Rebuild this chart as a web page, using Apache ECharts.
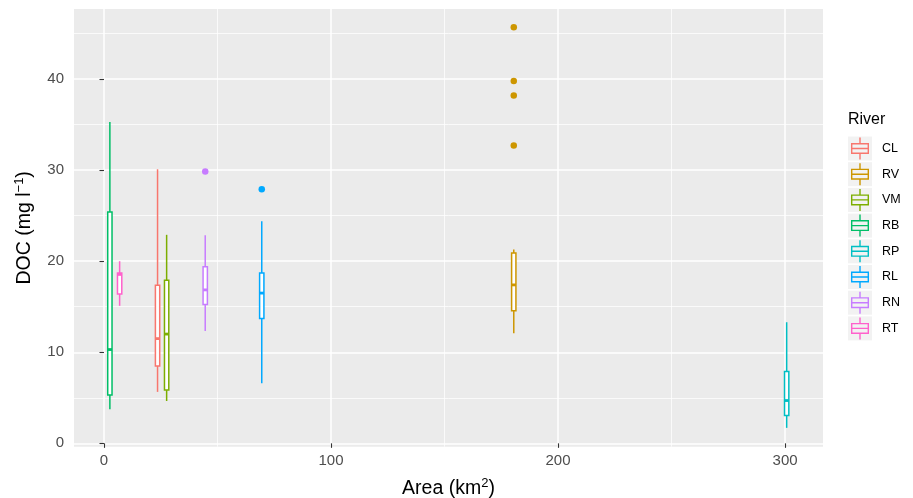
<!DOCTYPE html>
<html>
<head>
<meta charset="utf-8">
<title>DOC by catchment area</title>
<script src="https://cdn.jsdelivr.net/npm/echarts@6/dist/echarts.min.js"></script>
<style>
  html, body { margin: 0; padding: 0; background: #fff; }
  #chart { width: 913px; height: 498px; }
</style>
</head>
<body>
<div id="chart"></div>
<script>
// 数据：每条河的箱线图五数 + 离群点
var rivers = ['CL', 'RV', 'VM', 'RB', 'RP', 'RL', 'RN', 'RT'];
var colors = ['#F8766D', '#CD9600', '#7CAE00', '#00BE67', '#00BFC4', '#00A9FF', '#C77CFF', '#FF61CC'];
var areas = [23.6, 180.5, 27.6, 2.6, 300.7, 69.5, 44.6, 6.9];
var whiskerLow = [5.65, 12.1, 4.65, 3.75, 1.7, 6.6, 12.35, 15.1];
var q1 = [8.5, 14.55, 5.85, 5.3, 3.05, 13.7, 15.25, 16.4];
var median = [11.5, 17.4, 12.0, 10.3, 4.7, 16.5, 16.85, 18.55];
var q3 = [17.35, 20.9, 17.9, 25.4, 7.9, 18.7, 19.4, 18.7];
var whiskerHigh = [30.1, 21.3, 22.9, 35.3, 13.3, 24.4, 22.85, 20.0];
var outliers = [[], [45.7, 39.8, 38.2, 32.7], [], [], [], [27.9], [29.85], []];
var xTicks = [0, 100, 200, 300];
var yTicks = [0, 10, 20, 30, 40];

var boxWidth = 1.9; // 数据单位
var font = '"Liberation Sans", Arial, sans-serif';

// 图例图标：箱子轮廓（互不重叠的矩形拼成）
var keyIcon = 'path://M8.3 0h1.4v5.5h-1.4Z M0 5.5h18v1.4h-18Z M0 15.1h18v1.4h-18Z ' +
    'M0 6.9h1.4v8.2h-1.4Z M16.6 6.9h1.4v8.2h-1.4Z M1.4 10.3h15.2v1.4h-15.2Z M8.3 16.5h1.4v5.5h-1.4Z';

function makeBoxRender(color) {
    return function(params, api) {
        var x = api.value(0);
        var lo = api.coord([x, api.value(1)]);
        var b1 = api.coord([x, api.value(2)]);
        var md = api.coord([x, api.value(3)]);
        var b3 = api.coord([x, api.value(4)]);
        var hi = api.coord([x, api.value(5)]);
        var half = api.size([boxWidth, 0])[0] / 2;
        var line = { stroke: color, lineWidth: 1.5 };
        return {
            type: 'group',
            children: [
                { type: 'line', shape: { x1: hi[0], y1: hi[1], x2: b3[0], y2: b3[1] }, style: line },
                { type: 'line', shape: { x1: b1[0], y1: b1[1], x2: lo[0], y2: lo[1] }, style: line },
                {
                    type: 'rect',
                    shape: { x: b3[0] - half, y: b3[1], width: half * 2, height: b1[1] - b3[1] },
                    style: { fill: '#fff', stroke: color, lineWidth: 1.5 }
                },
                {
                    type: 'line',
                    shape: { x1: md[0] - half, y1: md[1], x2: md[0] + half, y2: md[1] },
                    style: { stroke: color, lineWidth: 2.8 }
                }
            ]
        };
    };
}

var series = [];
var legendData = [];
var keyBg = [];
for (var i = 0; i < rivers.length; i++) {
    series.push({
        name: rivers[i],
        type: 'custom',
        itemStyle: { color: colors[i] },
        renderItem: makeBoxRender(colors[i]),
        encode: { x: 0, y: [1, 2, 3, 4, 5] },
        data: [[areas[i], whiskerLow[i], q1[i], median[i], q3[i], whiskerHigh[i]]],
        z: 3
    });
    var pts = [];
    for (var j = 0; j < outliers[i].length; j++) {
        pts.push([areas[i], outliers[i][j]]);
    }
    series.push({
        name: rivers[i],
        type: 'scatter',
        symbolSize: 6.5,
        itemStyle: { color: colors[i], opacity: 1 },
        data: pts,
        z: 4
    });
    legendData.push({ name: rivers[i], icon: keyIcon });
    keyBg.push({
        type: 'rect',
        left: 848,
        top: 136.5 + i * 25.7,
        shape: { width: 24, height: 24 },
        style: { fill: '#F2F2F2' },
        z: -1
    });
}

var myChart = echarts.init(document.getElementById('chart'));
var option = {
    animation: false,
    backgroundColor: '#fff',
    textStyle: { fontFamily: font },
    grid: {
        left: 74, right: 90, top: 9, bottom: 51.3,
        outerBoundsMode: 'none',
        containLabel: false,
        show: true, backgroundColor: '#EBEBEB', borderWidth: 0
    },
    title: {
        text: 'River',
        left: 848, top: 112,
        padding: 0,
        textStyle: { fontFamily: font, fontSize: 16, fontWeight: 'normal', color: '#000' }
    },
    legend: {
        orient: 'vertical',
        left: 851, top: 137.5,
        padding: 0,
        itemWidth: 18, itemHeight: 22,
        itemGap: 3.7,
        selectedMode: false,
        data: legendData,
        textStyle: { fontFamily: font, fontSize: 12.5, color: '#000', padding: [0, 0, 0, 8] }
    },
    graphic: keyBg,
    xAxis: {
        type: 'value',
        min: -13.2, max: 316.7,
        splitNumber: 3,
        name: 'Area (km{sup|2})',
        nameLocation: 'middle',
        nameGap: 30,
        nameTextStyle: {
            fontFamily: font, fontSize: 19.5, color: '#000', verticalAlign: 'top',
            rich: { sup: { fontFamily: font, fontSize: 13, color: '#000', padding: [0, 0, 11, 0] } }
        },
        axisLine: { show: false },
        axisTick: { show: true, length: 4.5, customValues: xTicks, lineStyle: { color: '#333', width: 1.1 } },
        axisLabel: { customValues: xTicks, margin: 7, fontSize: 15, color: '#4D4D4D', fontFamily: font },
        splitLine: { show: true, lineStyle: { color: '#fff', width: 1.5 } },
        minorTick: { show: false, splitNumber: 2 },
        minorSplitLine: { show: true, lineStyle: { color: '#fff', width: 0.75 } }
    },
    yAxis: {
        type: 'value',
        min: -0.37, max: 47.7,
        splitNumber: 5,
        name: 'DOC (mg l{sup|\u22121})',
        nameLocation: 'middle',
        nameRotate: 90,
        nameGap: 37,
        nameTextStyle: {
            fontFamily: font, fontSize: 19.5, color: '#000',
            rich: { sup: { fontFamily: font, fontSize: 13, color: '#000', padding: [0, 0, 11, 0] } }
        },
        axisLine: { show: false },
        axisTick: { show: true, length: 4.5, customValues: yTicks, lineStyle: { color: '#333', width: 1.1 } },
        axisLabel: { customValues: yTicks, margin: 10, fontSize: 15, color: '#4D4D4D', fontFamily: font },
        splitLine: { show: true, lineStyle: { color: '#fff', width: 1.5 } },
        minorTick: { show: false, splitNumber: 2 },
        minorSplitLine: { show: true, lineStyle: { color: '#fff', width: 0.75 } }
    },
    series: series
};
myChart.setOption(option);
</script>
</body>
</html>
